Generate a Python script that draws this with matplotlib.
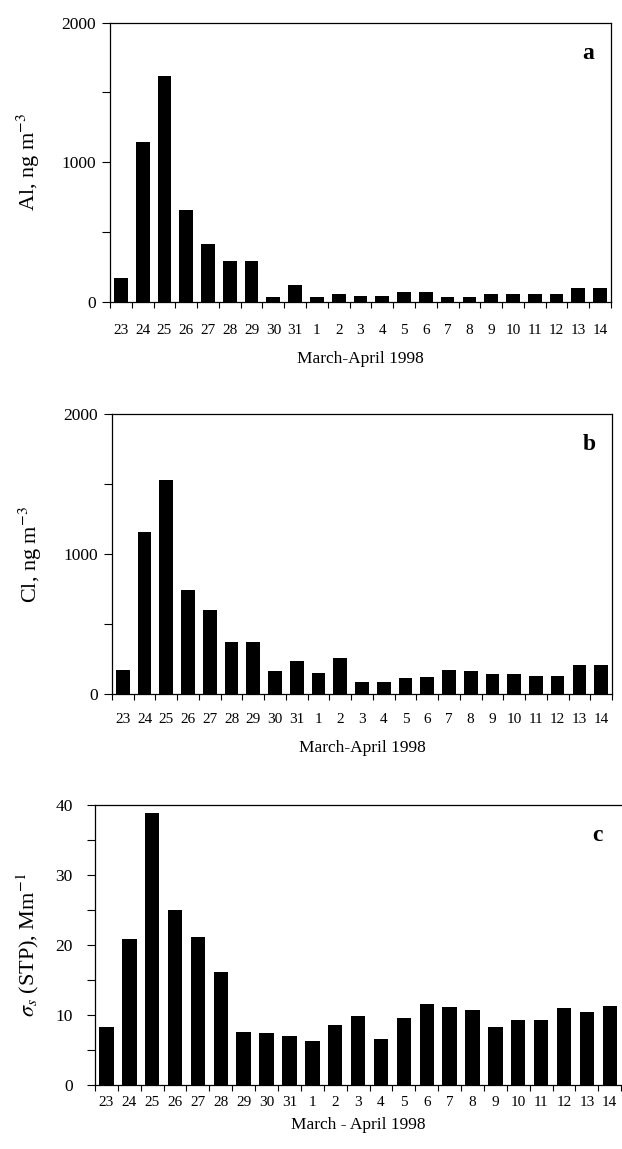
import numpy as np
import matplotlib
matplotlib.use('Agg')
from matplotlib import pyplot as plt
from matplotlib.ticker import MultipleLocator, FixedLocator, NullFormatter

plt.rcParams['font.family'] = ['Liberation Serif', 'DejaVu Serif']
plt.rcParams['mathtext.fontset'] = 'stix'

days = ['23', '24', '25', '26', '27', '28', '29', '30', '31', '1', '2', '3',
        '4', '5', '6', '7', '8', '9', '10', '11', '12', '13', '14']

al = [172, 1147, 1618, 655, 416, 292, 292, 36, 117, 36, 53, 43,
      43, 67, 67, 36, 36, 53, 57, 53, 53, 100, 100]
cl = [174, 1160, 1531, 745, 598, 369, 369, 162, 238, 150, 255, 86,
      86, 114, 119, 171, 167, 140, 145, 129, 129, 207, 207]
sigma = [8.3, 20.9, 38.9, 25.0, 21.1, 16.2, 7.5, 7.4, 7.0, 6.3, 8.6, 9.9,
         6.6, 9.6, 11.5, 11.1, 10.7, 8.3, 9.3, 9.3, 11.0, 10.4, 11.3]

fig = plt.figure(figsize=(6.22, 11.49), dpi=100)
x = np.arange(len(days))


def panel(rect, vals, ymax, ymajor, yminor, ylabel, xlabel, letter,
          tpad, xpad, ypad, ytpad=4, right=True):
    ax = fig.add_axes(rect)
    ax.bar(x, vals, width=0.63, color='black')
    ax.set_xlim(-0.5, len(days) - 0.5)
    ax.set_ylim(0, ymax)
    # ticks at bar boundaries, labels at bar centres
    ax.xaxis.set_major_locator(FixedLocator(np.arange(len(days) + 1) - 0.5))
    ax.xaxis.set_major_formatter(NullFormatter())
    ax.xaxis.set_minor_locator(FixedLocator(x))
    ax.set_xticklabels(days, minor=True)
    ax.tick_params(axis='x', which='major', direction='out', length=4, width=0.8)
    ax.tick_params(axis='x', which='minor', length=0, pad=tpad, labelsize=11)
    ax.yaxis.set_major_locator(MultipleLocator(ymajor))
    ax.yaxis.set_minor_locator(MultipleLocator(yminor))
    ax.tick_params(axis='y', which='both', direction='out', length=6, width=0.8,
                   labelsize=12.5, pad=ytpad)
    for s in ax.spines.values():
        s.set_linewidth(0.9)
    if not right:
        ax.spines['right'].set_visible(False)
    ax.set_ylabel(ylabel, fontsize=16, labelpad=ypad)
    ax.set_xlabel(xlabel, fontsize=12.5, labelpad=xpad)
    ax.text(0.955, 0.89, letter, transform=ax.transAxes, fontsize=17,
            fontweight='bold', ha='center', va='center')
    return ax


panel([0.1768, 0.7374, 0.8055, 0.2428], al, 2000, 1000, 500,
      r'Al, ng m$^{-3}$', 'March-April 1998', 'a', 16, 10, 14)
panel([0.180, 0.396, 0.8039, 0.2437], cl, 2000, 1000, 500,
      r'Cl, ng m$^{-3}$', 'March-April 1998', 'b', 14, 10, 14)
panel([0.1527, 0.0557, 0.846, 0.2437], sigma, 40, 10, 5,
      r'$\sigma_s$ (STP), Mm$^{-1}$', 'March - April 1998', 'c', 8, 6, 10,
      ytpad=10, right=False)

fig.savefig('out.png', dpi=100)
